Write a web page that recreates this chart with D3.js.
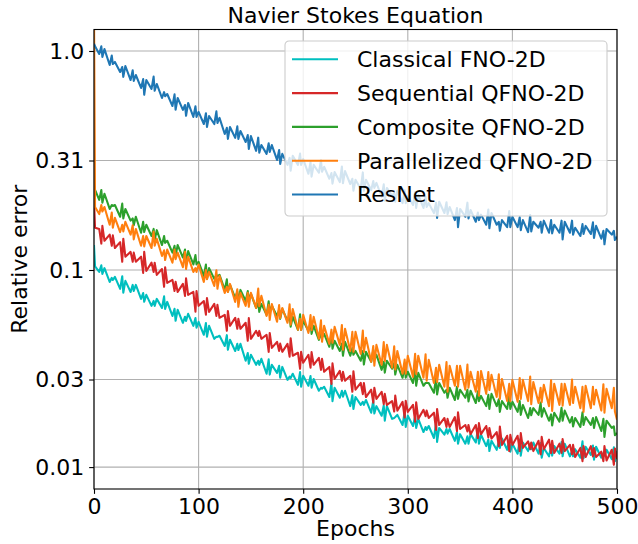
<!DOCTYPE html>
<html>
<head>
<meta charset="utf-8">
<script src="https://cdn.jsdelivr.net/npm/d3@7/dist/d3.min.js"></script>
<style>
  body { margin: 0; background: #fff; }
  svg { display: block; font-family: 'DejaVu Sans', sans-serif; }
</style>
</head>
<body>
<div id="app"></div>
<script>
// epochs at which values were read off the picture:
// 0, 1, then every 5 epochs, with two extra reads (5k+2, 5k+3) after every odd multiple of 5
const epochs = [0, 1]
for (let k = 1; k <= 100; k++) {
	epochs.push(5 * k)
	if (k % 2 === 1) epochs.push(5 * k + 2, 5 * k + 3)
}

const classicalFno = [
	0.130, 0.104,
	0.0980, 0.105, 0.0960, 0.102,
	0.0882, 0.0921, 0.0900, 0.0930,
	0.0820, 0.0937, 0.0787, 0.0892,
	0.0794, 0.0855, 0.0802, 0.0855,
	0.0738, 0.0785, 0.0716, 0.0770,
	0.0686, 0.0723, 0.0686, 0.0738,
	0.0671, 0.0758, 0.0664, 0.0715,
	0.0617, 0.0665, 0.0586, 0.0658,
	0.0574, 0.0612, 0.0585, 0.0631,
	0.0556, 0.0603, 0.0545, 0.0580,
	0.0506, 0.0573, 0.0496, 0.0556,
	0.0485, 0.0496, 0.0495, 0.0501,
	0.0450, 0.0504, 0.0432, 0.0480,
	0.0427, 0.0460, 0.0431, 0.0460,
	0.0385, 0.0418, 0.0373, 0.0410,
	0.0369, 0.0385, 0.0369, 0.0393,
	0.0336, 0.0391, 0.0333, 0.0369,
	0.0339, 0.0365, 0.0322, 0.0361,
	0.0315, 0.0326, 0.0321, 0.0336,
	0.0299, 0.0342, 0.0293, 0.0329,
	0.0296, 0.0328, 0.0290, 0.0318,
	0.0281, 0.0290, 0.0287, 0.0293,
	0.0263, 0.0305, 0.0252, 0.0290,
	0.0261, 0.0281, 0.0264, 0.0281,
	0.0239, 0.0268, 0.0232, 0.0263,
	0.0242, 0.0250, 0.0242, 0.0255,
	0.0223, 0.0253, 0.0221, 0.0239,
	0.0216, 0.0241, 0.0205, 0.0239,
	0.0209, 0.0211, 0.0213, 0.0218,
	0.0196, 0.0225, 0.0192, 0.0216,
	0.0194, 0.0215, 0.0190, 0.0209,
	0.0182, 0.0192, 0.0186, 0.0194,
	0.0171, 0.0200, 0.0164, 0.0190,
	0.0177, 0.0188, 0.0179, 0.0188,
	0.0166, 0.0182, 0.0161, 0.0178,
	0.0161, 0.0174, 0.0161, 0.0178,
	0.0163, 0.0188, 0.0161, 0.0177,
	0.0157, 0.0168, 0.0149, 0.0166,
	0.0151, 0.0165, 0.0154, 0.0170,
	0.0151, 0.0167, 0.0148, 0.0161,
	0.0145, 0.0168, 0.0142, 0.0163,
	0.0149, 0.0161, 0.0152, 0.0163,
	0.0145, 0.0162, 0.0139, 0.0154,
	0.0141, 0.0157, 0.0142, 0.0157,
	0.0145, 0.0164, 0.0141, 0.0161,
	0.0141, 0.0149, 0.0141, 0.0152,
	0.0139, 0.0165, 0.0138, 0.0156,
	0.0143, 0.0158, 0.0136, 0.0156,
	0.0139, 0.0146, 0.0142, 0.0151,
	0.0137, 0.0155, 0.0134, 0.0149,
]

const sequentialQfno = [
	0.209, 0.156,
	0.154, 0.132, 0.159, 0.136,
	0.145, 0.129, 0.144, 0.126,
	0.134, 0.109, 0.139, 0.115,
	0.121, 0.109, 0.120, 0.109,
	0.115, 0.0970, 0.121, 0.0990,
	0.108, 0.0979, 0.108, 0.0950,
	0.101, 0.0838, 0.103, 0.0873,
	0.0901, 0.0802, 0.0883, 0.0794,
	0.0864, 0.0762, 0.0916, 0.0770,
	0.0794, 0.0645, 0.0802, 0.0686,
	0.0722, 0.0625, 0.0744, 0.0644,
	0.0700, 0.0617, 0.0693, 0.0605,
	0.0624, 0.0528, 0.0649, 0.0556,
	0.0605, 0.0539, 0.0599, 0.0539,
	0.0574, 0.0475, 0.0603, 0.0485,
	0.0527, 0.0500, 0.0527, 0.0485,
	0.0506, 0.0423, 0.0516, 0.0441,
	0.0470, 0.0427, 0.0461, 0.0423,
	0.0460, 0.0402, 0.0488, 0.0406,
	0.0419, 0.0354, 0.0423, 0.0377,
	0.0410, 0.0358, 0.0422, 0.0369,
	0.0397, 0.0350, 0.0393, 0.0343,
	0.0361, 0.0302, 0.0375, 0.0318,
	0.0346, 0.0312, 0.0343, 0.0312,
	0.0329, 0.0278, 0.0345, 0.0284,
	0.0305, 0.0271, 0.0305, 0.0263,
	0.0284, 0.0248, 0.0290, 0.0258,
	0.0278, 0.0244, 0.0272, 0.0242,
	0.0252, 0.0226, 0.0267, 0.0228,
	0.0250, 0.0212, 0.0253, 0.0225,
	0.0242, 0.0203, 0.0249, 0.0209,
	0.0230, 0.0215, 0.0228, 0.0211,
	0.0223, 0.0186, 0.0232, 0.0196,
	0.0211, 0.0192, 0.0209, 0.0192,
	0.0213, 0.0184, 0.0224, 0.0188,
	0.0196, 0.0183, 0.0196, 0.0178,
	0.0196, 0.0171, 0.0200, 0.0178,
	0.0194, 0.0172, 0.0190, 0.0170,
	0.0182, 0.0157, 0.0193, 0.0159,
	0.0175, 0.0149, 0.0177, 0.0159,
	0.0175, 0.0149, 0.0180, 0.0154,
	0.0165, 0.0152, 0.0163, 0.0149,
	0.0166, 0.0144, 0.0173, 0.0152,
	0.0168, 0.0146, 0.0166, 0.0146,
	0.0161, 0.0146, 0.0169, 0.0149,
	0.0159, 0.0144, 0.0159, 0.0140,
	0.0154, 0.0134, 0.0157, 0.0140,
	0.0157, 0.0141, 0.0154, 0.0140,
	0.0148, 0.0134, 0.0157, 0.0135,
	0.0151, 0.0129, 0.0153, 0.0137,
]

const compositeQfno = [
	0.245, 0.232,
	0.209, 0.232, 0.203, 0.223,
	0.190, 0.198, 0.196, 0.198,
	0.175, 0.201, 0.172, 0.190,
	0.168, 0.172, 0.160, 0.175,
	0.148, 0.166, 0.149, 0.161,
	0.143, 0.154, 0.137, 0.152,
	0.130, 0.143, 0.133, 0.136,
	0.120, 0.129, 0.116, 0.130,
	0.114, 0.124, 0.107, 0.122,
	0.106, 0.117, 0.106, 0.109,
	0.0940, 0.106, 0.0912, 0.102,
	0.0911, 0.0950, 0.0938, 0.0950,
	0.0811, 0.0906, 0.0795, 0.0855,
	0.0746, 0.0795, 0.0709, 0.0811,
	0.0722, 0.0801, 0.0729, 0.0778,
	0.0671, 0.0707, 0.0644, 0.0700,
	0.0624, 0.0720, 0.0636, 0.0686,
	0.0617, 0.0657, 0.0598, 0.0664,
	0.0586, 0.0623, 0.0551, 0.0611,
	0.0533, 0.0627, 0.0533, 0.0586,
	0.0527, 0.0578, 0.0511, 0.0556,
	0.0480, 0.0511, 0.0494, 0.0511,
	0.0446, 0.0504, 0.0437, 0.0475,
	0.0427, 0.0461, 0.0406, 0.0470,
	0.0406, 0.0440, 0.0410, 0.0427,
	0.0385, 0.0427, 0.0370, 0.0423,
	0.0381, 0.0431, 0.0389, 0.0410,
	0.0350, 0.0381, 0.0340, 0.0385,
	0.0354, 0.0376, 0.0333, 0.0369,
	0.0322, 0.0367, 0.0322, 0.0343,
	0.0305, 0.0353, 0.0296, 0.0339,
	0.0296, 0.0305, 0.0305, 0.0305,
	0.0275, 0.0323, 0.0270, 0.0305,
	0.0275, 0.0284, 0.0261, 0.0290,
	0.0255, 0.0293, 0.0258, 0.0284,
	0.0261, 0.0284, 0.0251, 0.0281,
	0.0247, 0.0279, 0.0252, 0.0266,
	0.0239, 0.0269, 0.0232, 0.0272,
	0.0239, 0.0257, 0.0225, 0.0252,
	0.0232, 0.0268, 0.0232, 0.0250,
	0.0225, 0.0252, 0.0218, 0.0242,
	0.0211, 0.0234, 0.0217, 0.0234,
	0.0218, 0.0248, 0.0214, 0.0234,
	0.0205, 0.0219, 0.0195, 0.0223,
	0.0203, 0.0235, 0.0205, 0.0228,
	0.0201, 0.0213, 0.0193, 0.0211,
	0.0192, 0.0224, 0.0196, 0.0213,
	0.0196, 0.0211, 0.0190, 0.0213,
	0.0184, 0.0209, 0.0173, 0.0205,
	0.0190, 0.0193, 0.0176, 0.0180,
]

const parallelizedQfno = [
	1.6, 0.194,
	0.180, 0.198, 0.185, 0.194,
	0.161, 0.183, 0.156, 0.173,
	0.149, 0.161, 0.150, 0.166,
	0.145, 0.160, 0.138, 0.154,
	0.129, 0.143, 0.128, 0.143,
	0.126, 0.150, 0.129, 0.139,
	0.116, 0.123, 0.111, 0.124,
	0.108, 0.124, 0.112, 0.120,
	0.103, 0.121, 0.101, 0.115,
	0.0980, 0.102, 0.0980, 0.106,
	0.0882, 0.100, 0.0908, 0.0980,
	0.0846, 0.0996, 0.0821, 0.0940,
	0.0786, 0.0838, 0.0794, 0.0864,
	0.0715, 0.0817, 0.0679, 0.0786,
	0.0686, 0.0786, 0.0679, 0.0786,
	0.0671, 0.0823, 0.0684, 0.0762,
	0.0617, 0.0693, 0.0592, 0.0700,
	0.0580, 0.0691, 0.0603, 0.0671,
	0.0574, 0.0697, 0.0563, 0.0664,
	0.0533, 0.0599, 0.0533, 0.0624,
	0.0516, 0.0623, 0.0531, 0.0611,
	0.0485, 0.0589, 0.0470, 0.0556,
	0.0460, 0.0534, 0.0465, 0.0550,
	0.0455, 0.0561, 0.0432, 0.0539,
	0.0427, 0.0522, 0.0423, 0.0522,
	0.0414, 0.0529, 0.0422, 0.0490,
	0.0381, 0.0450, 0.0366, 0.0455,
	0.0369, 0.0469, 0.0384, 0.0455,
	0.0358, 0.0448, 0.0351, 0.0427,
	0.0336, 0.0390, 0.0336, 0.0406,
	0.0325, 0.0414, 0.0335, 0.0406,
	0.0322, 0.0412, 0.0312, 0.0389,
	0.0305, 0.0358, 0.0308, 0.0369,
	0.0293, 0.0380, 0.0278, 0.0365,
	0.0296, 0.0365, 0.0293, 0.0365,
	0.0284, 0.0370, 0.0290, 0.0343,
	0.0278, 0.0343, 0.0267, 0.0346,
	0.0272, 0.0342, 0.0283, 0.0332,
	0.0263, 0.0334, 0.0258, 0.0318,
	0.0252, 0.0302, 0.0252, 0.0315,
	0.0250, 0.0321, 0.0258, 0.0315,
	0.0252, 0.0326, 0.0244, 0.0308,
	0.0247, 0.0290, 0.0249, 0.0299,
	0.0239, 0.0314, 0.0227, 0.0302,
	0.0242, 0.0302, 0.0240, 0.0302,
	0.0242, 0.0316, 0.0247, 0.0293,
	0.0234, 0.0293, 0.0225, 0.0296,
	0.0234, 0.0293, 0.0243, 0.0284,
	0.0228, 0.0301, 0.0223, 0.0287,
	0.0234, 0.0290, 0.0226, 0.0207,
]

const resNet = [
	1.08, 1.05,
	0.969, 1.05, 0.940, 1.02,
	0.863, 0.953, 0.872, 0.891,
	0.802, 0.845, 0.762, 0.854,
	0.737, 0.816, 0.730, 0.777,
	0.678, 0.744, 0.631, 0.737,
	0.671, 0.764, 0.658, 0.707,
	0.610, 0.649, 0.622, 0.636,
	0.561, 0.634, 0.539, 0.610,
	0.538, 0.567, 0.506, 0.579,
	0.500, 0.559, 0.500, 0.527,
	0.464, 0.520, 0.450, 0.505,
	0.464, 0.530, 0.469, 0.495,
	0.418, 0.446, 0.397, 0.450,
	0.401, 0.453, 0.397, 0.431,
	0.384, 0.413, 0.357, 0.409,
	0.350, 0.402, 0.343, 0.372,
	0.339, 0.379, 0.346, 0.372,
	0.318, 0.353, 0.305, 0.339,
	0.302, 0.325, 0.284, 0.332,
	0.302, 0.340, 0.302, 0.321,
	0.275, 0.311, 0.267, 0.302,
	0.278, 0.317, 0.281, 0.296,
	0.261, 0.277, 0.248, 0.280,
	0.252, 0.297, 0.249, 0.283,
	0.247, 0.261, 0.230, 0.258,
	0.235, 0.279, 0.230, 0.258,
	0.232, 0.255, 0.237, 0.250,
	0.216, 0.246, 0.207, 0.237,
	0.218, 0.225, 0.205, 0.230,
	0.202, 0.231, 0.202, 0.218,
	0.198, 0.227, 0.192, 0.220,
	0.192, 0.216, 0.194, 0.202,
	0.182, 0.203, 0.173, 0.205,
	0.182, 0.204, 0.180, 0.194,
	0.169, 0.192, 0.157, 0.190,
	0.175, 0.203, 0.172, 0.188,
	0.166, 0.183, 0.169, 0.179,
	0.161, 0.189, 0.155, 0.182,
	0.161, 0.166, 0.151, 0.169,
	0.157, 0.186, 0.157, 0.175,
	0.157, 0.174, 0.152, 0.169,
	0.149, 0.178, 0.150, 0.166,
	0.156, 0.166, 0.148, 0.168,
	0.148, 0.169, 0.147, 0.161,
	0.148, 0.168, 0.138, 0.166,
	0.148, 0.168, 0.145, 0.156,
	0.143, 0.162, 0.146, 0.159,
	0.146, 0.165, 0.140, 0.159,
	0.139, 0.151, 0.131, 0.154,
	0.145, 0.151, 0.137, 0.142,
]

const seriesNames = ['Classical FNO-2D', 'Sequential QFNO-2D', 'Composite QFNO-2D', 'Parallelized QFNO-2D', 'ResNet']
const seriesValues = [classicalFno, sequentialQfno, compositeQfno, parallelizedQfno, resNet]
const seriesColors = ['#00bfbf', '#d62728', '#2ca02c', '#ff7f0e', '#1f77b4']

const xTicks = [0, 100, 200, 300, 400, 500]
const yTicks = [1, 0.3162, 0.1, 0.03162, 0.01259]
const yTickLabels = ['1.0', '0.31', '0.1', '0.03', '0.01']

// layout (matplotlib-like sizes at 100 dpi: 1pt = 1.39px)
const width = 638
const height = 544
const margin = { top: 29.5, right: 21, bottom: 55, left: 94 }
const plotW = width - margin.left - margin.right
const plotH = height - margin.top - margin.bottom
const fontSize = 22
const lineW = 2.08
const thinW = 1.1
const tickLen = 4.86

const svg = d3.select('#app').append('svg')
	.attr('width', width)
	.attr('height', height)

const g = svg.append('g')
	.attr('transform', `translate(${margin.left},${margin.top})`)

const xScale = d3.scaleLinear().domain([0, 500]).range([0, plotW])
const yScale = d3.scaleLog().domain([0.01, 1.2536]).range([plotH, 0])

// grid
g.append('g')
	.selectAll('line')
	.data(xTicks)
	.join('line')
	.attr('x1', (d) => xScale(d))
	.attr('x2', (d) => xScale(d))
	.attr('y1', 0)
	.attr('y2', plotH)
	.attr('stroke', '#b0b0b0')
	.attr('stroke-width', thinW)

g.append('g')
	.selectAll('line')
	.data(yTicks)
	.join('line')
	.attr('x1', 0)
	.attr('x2', plotW)
	.attr('y1', (d) => yScale(d))
	.attr('y2', (d) => yScale(d))
	.attr('stroke', '#b0b0b0')
	.attr('stroke-width', thinW)

// clip lines to the axes box
svg.append('defs').append('clipPath').attr('id', 'plot-clip')
	.append('rect')
	.attr('width', plotW)
	.attr('height', plotH)

const line = d3.line()
	.x((d, i) => xScale(epochs[i]))
	.y((d) => yScale(d))

g.append('g')
	.attr('clip-path', 'url(#plot-clip)')
	.selectAll('path')
	.data(seriesValues)
	.join('path')
	.attr('d', line)
	.attr('fill', 'none')
	.attr('stroke', (d, i) => seriesColors[i])
	.attr('stroke-width', lineW)
	.attr('stroke-linejoin', 'round')

// axes
const xAxis = d3.axisBottom(xScale).tickValues(xTicks).tickSize(tickLen).tickPadding(tickLen).tickSizeOuter(0)
const yAxis = d3.axisLeft(yScale).tickValues(yTicks).tickFormat((d, i) => yTickLabels[i]).tickSize(tickLen).tickPadding(tickLen).tickSizeOuter(0)

const xg = g.append('g').attr('transform', `translate(0,${plotH})`).call(xAxis)
const yg = g.append('g').call(yAxis)

for (const ax of [xg, yg]) {
	ax.select('.domain').remove()
	ax.selectAll('line').attr('stroke', '#000').attr('stroke-width', thinW)
	ax.selectAll('text')
		.attr('fill', '#000')
		.style('font-size', fontSize + 'px')
		.style('font-family', "'DejaVu Sans', sans-serif")
}

// spines
g.append('rect')
	.attr('width', plotW)
	.attr('height', plotH)
	.attr('fill', 'none')
	.attr('stroke', '#000')
	.attr('stroke-width', thinW)

// title and axis labels
svg.append('text')
	.attr('x', margin.left + plotW / 2)
	.attr('y', 23)
	.attr('text-anchor', 'middle')
	.style('font-size', fontSize + 'px')
	.text('Navier Stokes Equation')

svg.append('text')
	.attr('x', margin.left + plotW / 2)
	.attr('y', 536)
	.attr('text-anchor', 'middle')
	.style('font-size', fontSize + 'px')
	.text('Epochs')

svg.append('text')
	.attr('transform', `translate(27,${margin.top + plotH / 2}) rotate(-90)`)
	.attr('text-anchor', 'middle')
	.style('font-size', fontSize + 'px')
	.text('Relative error')

// legend
const legend = svg.append('g').attr('transform', 'translate(285,41)')

legend.append('rect')
	.attr('width', 322)
	.attr('height', 175)
	.attr('rx', 4)
	.attr('fill', '#fff')
	.attr('fill-opacity', 0.8)
	.attr('stroke', '#cccccc')
	.attr('stroke-width', thinW)

const rows = legend.selectAll('g.row')
	.data(seriesNames)
	.join('g')
	.attr('class', 'row')
	.attr('transform', (d, i) => `translate(0,${18.3 + i * 33.8})`)

rows.append('line')
	.attr('x1', 7)
	.attr('x2', 53)
	.attr('stroke', (d, i) => seriesColors[i])
	.attr('stroke-width', lineW)

rows.append('text')
	.attr('x', 72)
	.attr('dy', '0.36em')
	.style('font-size', fontSize + 'px')
	.text((d) => d)
</script>
</body>
</html>
